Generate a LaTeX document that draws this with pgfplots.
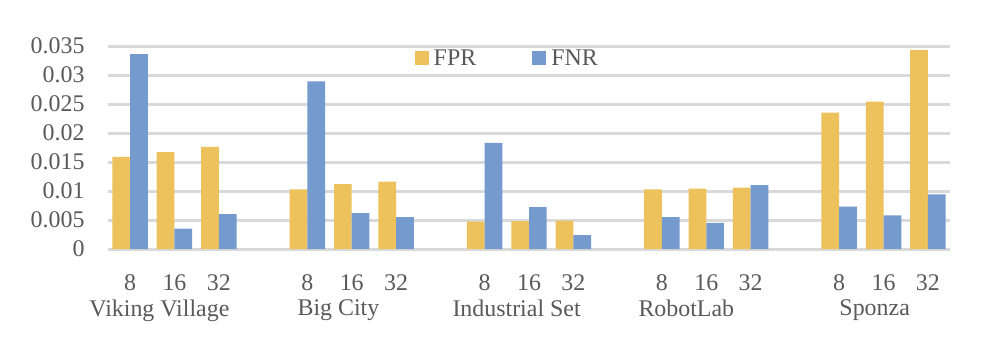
\documentclass[border=0pt]{standalone}
\usepackage{pgfplots}
\pgfplotsset{compat=1.18}
\usepackage{fontspec}
\setmainfont{Liberation Serif}
\definecolor{fpr}{RGB}{237,194,92}
\definecolor{fnr}{RGB}{117,154,206}
\definecolor{txt}{RGB}{89,89,89}
\definecolor{grd}{RGB}{217,217,217}
\pgfplotsset{sqleg/.style={legend image code/.code={\fill[##1] (0bp,-7bp) rectangle (14bp,7bp);}}}

\begin{document}
\begin{tikzpicture}
\path[use as bounding box] (-108bp,-95bp) rectangle (889bp,249bp);
\begin{axis}[
  scale only axis, width=842bp, height=203bp,
  ybar=0pt, bar width=0.4,
  xmin=-0.5, xmax=18.5, ymin=0, ymax=0.035,
  xtick={0,1,2,4,5,6,8,9,10,12,13,14,16,17,18},
  xticklabels={8,16,32,8,16,32,8,16,32,8,16,32,8,16,32},
  xticklabel style={yshift=-22.5bp},
  extra x ticks={0.66,4.7,8.72,12.55,16.8},
  extra x tick labels={Viking Village,Big City,Industrial Set,RobotLab,Sponza},
  extra x tick style={xticklabel style={yshift=-25bp}},
  ytick={0,0.005,0.01,0.015,0.02,0.025,0.03,0.035},
  scaled y ticks=false,
  yticklabel style={xshift=-20bp,/pgf/number format/fixed,/pgf/number format/precision=3},
  /pgf/number format/assume math mode=true,
  ymajorgrids, grid style={grd, line width=3bp},
  axis line style={draw=none},
  major tick length=0pt,
  tick label style={text=txt, font=\fontsize{24}{28}\selectfont},
  legend style={at={(0.473,0.94)}, anchor=center, draw=none, fill=none,
    legend columns=2, font=\fontsize{24}{28}\selectfont, text=txt,
    nodes={inner xsep=0pt},
    /tikz/every odd column/.append style={column sep=5bp},
    /tikz/every even column/.append style={column sep=56bp}},
]
\addplot[fill=fpr, draw=none, sqleg] coordinates {
  (0,0.0159) (1,0.0167) (2,0.0176)
  (4,0.0103) (5,0.0112) (6,0.0116)
  (8,0.0047) (9,0.0048) (10,0.0049)
  (12,0.0103) (13,0.0104) (14,0.0106)
  (16,0.0235) (17,0.0254) (18,0.0343)
};
\addplot[fill=fnr, draw=none, sqleg] coordinates {
  (0,0.0336) (1,0.0035) (2,0.0060)
  (4,0.0289) (5,0.0062) (6,0.0055)
  (8,0.0183) (9,0.0072) (10,0.0024)
  (12,0.0055) (13,0.0045) (14,0.0110)
  (16,0.0073) (17,0.0058) (18,0.0094)
};
\legend{FPR,FNR}
\end{axis}
\end{tikzpicture}
\end{document}
